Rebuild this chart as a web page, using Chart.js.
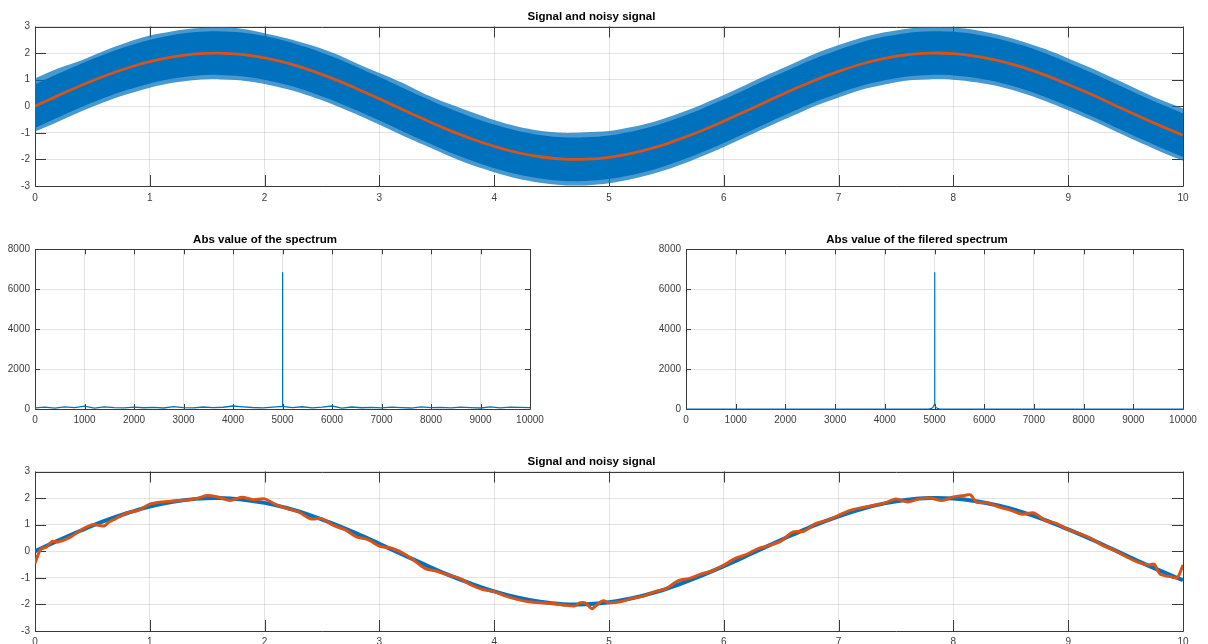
<!DOCTYPE html>
<html>
<head>
<meta charset="utf-8">
<title>Signal and noisy signal</title>
<script src="https://cdn.jsdelivr.net/npm/chart.js@4.4.0/dist/chart.umd.min.js"></script>
<style>
    html, body { margin: 0; padding: 0; background: #fff; }
    body { width: 1208px; height: 644px; position: relative; overflow: hidden; }
    canvas { position: absolute; }
</style>
</head>
<body>
<canvas id="chart_top" width="1208" height="210" style="left:0px;top:0px"></canvas>
<canvas id="chart_spec" width="560" height="200" style="left:0px;top:228px"></canvas>
<canvas id="chart_filt_spec" width="557" height="200" style="left:651px;top:228px"></canvas>
<canvas id="chart_bottom" width="1208" height="194" style="left:0px;top:450px"></canvas>
<script>
// ----------------------- data -----------------------

// clean signal, sampled every 0.2 s
const sigX = [0, 0.2, 0.4, 0.6, 0.8, 1.0, 1.2, 1.4, 1.6, 1.8, 2.0, 2.2, 2.4, 2.6, 2.8, 3.0, 3.2, 3.4, 3.6, 3.8,
    4.0, 4.2, 4.4, 4.6, 4.8, 5.0, 5.2, 5.4, 5.6, 5.8, 6.0, 6.2, 6.4, 6.6, 6.8, 7.0, 7.2, 7.4, 7.6, 7.8,
    8.0, 8.2, 8.4, 8.6, 8.8, 9.0, 9.2, 9.4, 9.6, 9.8, 10.0];
const sigY = [0, 0.40, 0.78, 1.13, 1.43, 1.68, 1.86, 1.97, 2.00, 1.95, 1.82, 1.62, 1.35, 1.03, 0.67, 0.28, -0.12, -0.51, -0.89, -1.22,
    -1.51, -1.74, -1.90, -1.99, -1.99, -1.92, -1.77, -1.55, -1.26, -0.93, -0.56, -0.17, 0.23, 0.62, 0.99, 1.31, 1.59, 1.80, 1.94, 2.00,
    1.98, 1.88, 1.71, 1.47, 1.17, 0.82, 0.45, 0.05, -0.35, -0.73, -1.09];

// noisy signal: outer (spike) envelope and dense core, same x as sigX
const noiseMax = [1.05, 1.42, 1.72, 2.08, 2.40, 2.66, 2.82, 2.93, 2.97, 2.92, 2.75, 2.55, 2.30, 2.00, 1.62, 1.25, 0.88, 0.45, 0.10, -0.22,
    -0.52, -0.76, -0.92, -1.00, -0.98, -0.93, -0.78, -0.57, -0.28, 0.05, 0.42, 0.82, 1.22, 1.60, 1.98, 2.30, 2.58, 2.78, 2.92, 2.98,
    2.96, 2.86, 2.68, 2.44, 2.15, 1.80, 1.44, 1.04, 0.64, 0.25, -0.08];
const noiseMin = [-0.95, -0.58, -0.20, 0.15, 0.45, 0.70, 0.88, 0.99, 1.02, 0.97, 0.84, 0.64, 0.38, 0.06, -0.30, -0.70, -1.10, -1.48, -1.86, -2.20,
    -2.48, -2.72, -2.88, -2.97, -2.98, -2.90, -2.74, -2.52, -2.24, -1.90, -1.53, -1.14, -0.74, -0.36, 0.02, 0.33, 0.62, 0.82, 0.97, 1.02,
    1.00, 0.90, 0.74, 0.50, 0.20, -0.15, -0.52, -0.92, -1.32, -1.70, -2.05];
const coreHi = [0.82, 1.22, 1.60, 1.95, 2.25, 2.50, 2.68, 2.79, 2.82, 2.77, 2.64, 2.44, 2.17, 1.85, 1.49, 1.10, 0.70, 0.31, -0.07, -0.40,
    -0.69, -0.92, -1.08, -1.17, -1.17, -1.10, -0.95, -0.73, -0.44, -0.11, 0.26, 0.65, 1.05, 1.44, 1.81, 2.13, 2.41, 2.62, 2.76, 2.82,
    2.80, 2.70, 2.53, 2.29, 1.99, 1.64, 1.27, 0.87, 0.47, 0.09, -0.27];
const coreLo = [-0.82, -0.42, -0.04, 0.31, 0.61, 0.86, 1.04, 1.15, 1.18, 1.13, 1.00, 0.80, 0.53, 0.21, -0.15, -0.54, -0.94, -1.33, -1.71, -2.04,
    -2.33, -2.56, -2.72, -2.81, -2.81, -2.74, -2.59, -2.37, -2.08, -1.75, -1.38, -0.99, -0.59, -0.20, 0.17, 0.49, 0.77, 0.98, 1.12, 1.18,
    1.16, 1.06, 0.89, 0.65, 0.35, 0.00, -0.37, -0.77, -1.17, -1.55, -1.91];

// abs value of the spectrum
const specFreq = [0, 200, 400, 600, 800, 1000, 1200, 1400, 1600, 1800, 2000, 2200, 2400, 2600, 2800, 3000, 3200, 3400, 3600, 3800,
    4000, 4200, 4400, 4600, 4800, 4995, 5000, 5005, 5200, 5400, 5600, 5800, 6000, 6200, 6400, 6600, 6800, 7000, 7200, 7400,
    7600, 7800, 8000, 8200, 8400, 8600, 8800, 9000, 9200, 9400, 9600, 9800, 10000];
const specAbs = [55, 92, 48, 103, 67, 140, 44, 110, 73, 58, 96, 62, 85, 50, 118, 70, 57, 99, 64, 88,
    150, 107, 75, 60, 94, 130, 6850, 130, 68, 112, 53, 90, 150, 47, 101, 63, 86, 55, 97, 71,
    49, 108, 66, 83, 58, 95, 72, 51, 104, 61, 89, 77, 66];

// abs value of the filtered spectrum
const filtFreq = [0, 4900, 4940, 4970, 4990, 5000, 5010, 5030, 5060, 5100, 10000];
const filtAbs = [0, 5, 30, 80, 200, 6850, 200, 80, 30, 5, 0];

// filtered signal (bottom plot)
const filtX = [0, 0.05, 0.1, 0.15, 0.2, 0.3, 0.4, 0.5, 0.6, 0.65,
    0.7, 0.8, 0.9, 1.0, 1.1, 1.2, 1.3, 1.4, 1.5, 1.6, 1.7, 1.8, 1.9, 2.0, 2.1, 2.2, 2.3, 2.4, 2.5, 2.6, 2.7,
    2.8, 2.9, 3.0, 3.1, 3.2, 3.3, 3.4, 3.5, 3.6, 3.7, 3.8, 3.9, 4.0, 4.1, 4.2, 4.3, 4.4, 4.5, 4.6, 4.7,
    4.75, 4.8, 4.85, 4.9, 4.95, 5.0,
    5.1, 5.2, 5.3, 5.4, 5.5, 5.6, 5.7, 5.8, 5.9, 6.0, 6.1, 6.2, 6.3, 6.4, 6.5, 6.6,
    6.7, 6.8, 6.9, 7.0, 7.1, 7.2, 7.3, 7.4, 7.5, 7.6, 7.7, 7.8, 7.9, 8.0, 8.1,
    8.15, 8.2, 8.3, 8.4, 8.5, 8.6, 8.7, 8.8, 8.9, 9.0, 9.1, 9.2, 9.3, 9.4, 9.5, 9.6, 9.7,
    9.75, 9.8, 9.9, 9.95, 10.0];
const filtY = [-0.46, 0.08, 0.16, 0.37, 0.35, 0.51, 0.79, 1.0, 0.95, 1.12,
    1.22, 1.44, 1.54, 1.77, 1.85, 1.89, 1.92, 1.97, 2.1, 2.03, 1.91, 2.03, 1.94, 1.97, 1.75, 1.6, 1.47, 1.22, 1.22, 0.97, 0.81,
    0.54, 0.44, 0.19, 0.12, -0.06, -0.34, -0.65, -0.75, -0.9, -1.02, -1.27, -1.44, -1.52, -1.69, -1.81, -1.9, -1.94, -1.96, -2.02, -2.06,
    -1.94, -1.96, -2.16, -1.99, -1.86, -1.94,
    -1.9, -1.77, -1.69, -1.52, -1.4, -1.11, -1.02, -0.86, -0.74, -0.52, -0.27, -0.12, 0.1, 0.22, 0.39, 0.72,
    0.76, 1.04, 1.16, 1.35, 1.54, 1.64, 1.72, 1.81, 1.97, 1.85, 1.97, 2.0, 1.91, 2.04, 2.1,
    2.12, 1.85, 1.82, 1.66, 1.54, 1.39, 1.44, 1.16, 1.04, 0.81, 0.66, 0.48, 0.22, 0.04, -0.19, -0.4, -0.52,
    -0.49, -0.86, -0.96, -1.0, -0.52];

// ----------------------- style -----------------------

const BLUE = "#0072BD";
const ORANGE = "#D95319";
const FONT = "'Liberation Sans', Arial, Helvetica, sans-serif";
const TICK_COLOR = "#3c3c3c";
const AXIS_COLOR = "#3a3a3a";
const GRID_COLOR = "rgba(0,0,0,0.11)";

// ----------------------- helpers -----------------------

function pts(xs, ys) {
    return xs.map((x, i) => ({ x: x, y: ys[i] }));
}

// MATLAB-like box with inward ticks on all four sides (drawn under the data)
const matlabBox = {
    id: "matlabBox",
    beforeDatasetsDraw(chart, args, opts) {
        const { ctx, chartArea: a } = chart;
        const xs = chart.scales.x;
        const ys = chart.scales.y;
        const len = opts.tickLen || 10;
        const al = v => Math.round(v) + 0.5;
        ctx.save();
        ctx.strokeStyle = AXIS_COLOR;
        ctx.lineWidth = 1;
        ctx.beginPath();
        ctx.rect(al(a.left), al(a.top), Math.round(a.right) - Math.round(a.left), Math.round(a.bottom) - Math.round(a.top));
        xs.ticks.forEach(t => {
            const px = al(xs.getPixelForValue(t.value));
            ctx.moveTo(px, a.bottom); ctx.lineTo(px, a.bottom - len);
            ctx.moveTo(px, a.top); ctx.lineTo(px, a.top + len);
        });
        ys.ticks.forEach(t => {
            const py = al(ys.getPixelForValue(t.value));
            ctx.moveTo(a.left, py); ctx.lineTo(a.left + len, py);
            ctx.moveTo(a.right, py); ctx.lineTo(a.right - len, py);
        });
        ctx.stroke();
        ctx.restore();
    }
};

function makeChart(id, datasets, cfg) {
    const tickFont = { family: FONT, size: 10 };
    return new Chart(document.getElementById(id), {
        type: "line",
        data: { datasets: datasets },
        options: {
            responsive: false,
            animation: false,
            devicePixelRatio: 1,
            layout: { padding: { left: 0, right: cfg.padRight, top: 0, bottom: 0 } },
            elements: { point: { radius: 0 } },
            plugins: {
                legend: { display: false },
                tooltip: { enabled: false },
                title: {
                    display: true,
                    text: cfg.title,
                    color: "#000",
                    font: { family: FONT, size: 11.5, weight: "bold" },
                    padding: { top: cfg.titleTop, bottom: cfg.titleBottom }
                },
                matlabBox: { tickLen: cfg.tickLen }
            },
            scales: {
                x: {
                    type: "linear",
                    min: cfg.xMin, max: cfg.xMax,
                    ticks: { stepSize: cfg.xStep, color: TICK_COLOR, font: tickFont, padding: cfg.xPad,
                             maxRotation: 0, autoSkip: false, callback: v => String(v) },
                    grid: { color: GRID_COLOR, drawTicks: false },
                    border: { display: false },
                    afterFit: s => { s.height = cfg.xHeight; }
                },
                y: {
                    type: "linear",
                    min: cfg.yMin, max: cfg.yMax,
                    ticks: { stepSize: cfg.yStep, color: TICK_COLOR, font: tickFont, padding: 5,
                             autoSkip: false, callback: v => String(v) },
                    grid: { color: GRID_COLOR, drawTicks: false },
                    border: { display: false },
                    afterFit: s => { s.width = 35; }
                }
            }
        },
        plugins: [matlabBox]
    });
}

// ----------------------- charts -----------------------

const noBorder = { borderColor: "transparent", borderWidth: 0, pointRadius: 0, tension: 0.3 };

makeChart("chart_top", [
    { data: pts(sigX, sigY), borderColor: ORANGE, borderWidth: 2.8, pointRadius: 0, tension: 0.4, fill: false },
    Object.assign({ data: pts(sigX, coreHi), backgroundColor: BLUE, fill: "+1" }, noBorder),
    Object.assign({ data: pts(sigX, coreLo), fill: false }, noBorder),
    Object.assign({ data: pts(sigX, noiseMax), backgroundColor: "rgba(0,114,189,0.72)", fill: "+1" }, noBorder),
    Object.assign({ data: pts(sigX, noiseMin), fill: false }, noBorder)
], {
    title: "Signal and noisy signal", titleTop: 10, titleBottom: 2.7,
    padRight: 25, xHeight: 24, xPad: 6, tickLen: 11,
    xMin: 0, xMax: 10, xStep: 1, yMin: -3, yMax: 3, yStep: 1
});

makeChart("chart_spec", [
    { data: pts(specFreq, specAbs), borderColor: BLUE, borderWidth: 1.3, pointRadius: 0, tension: 0, fill: false, clip: 3 }
], {
    title: "Abs value of the spectrum", titleTop: 5.1, titleBottom: 2.4,
    padRight: 30, xHeight: 19, xPad: 5, tickLen: 5,
    xMin: 0, xMax: 10000, xStep: 1000, yMin: 0, yMax: 8000, yStep: 2000
});

makeChart("chart_filt_spec", [
    { data: pts(filtFreq, filtAbs), borderColor: BLUE, borderWidth: 1.2, pointRadius: 0, tension: 0, fill: false, clip: 3 }
], {
    title: "Abs value of the filered spectrum", titleTop: 5.1, titleBottom: 2.4,
    padRight: 25, xHeight: 19, xPad: 5, tickLen: 5,
    xMin: 0, xMax: 10000, xStep: 1000, yMin: 0, yMax: 8000, yStep: 2000
});

makeChart("chart_bottom", [
    { data: pts(filtX, filtY), borderColor: ORANGE, borderWidth: 3, pointRadius: 0, tension: 0.3, fill: false },
    { data: pts(sigX, sigY), borderColor: BLUE, borderWidth: 4, pointRadius: 0, tension: 0.4, fill: false }
], {
    title: "Signal and noisy signal", titleTop: 5.1, titleBottom: 2.6,
    padRight: 25, xHeight: 13, xPad: 5, tickLen: 11,
    xMin: 0, xMax: 10, xStep: 1, yMin: -3, yMax: 3, yStep: 1
});
</script>
</body>
</html>
